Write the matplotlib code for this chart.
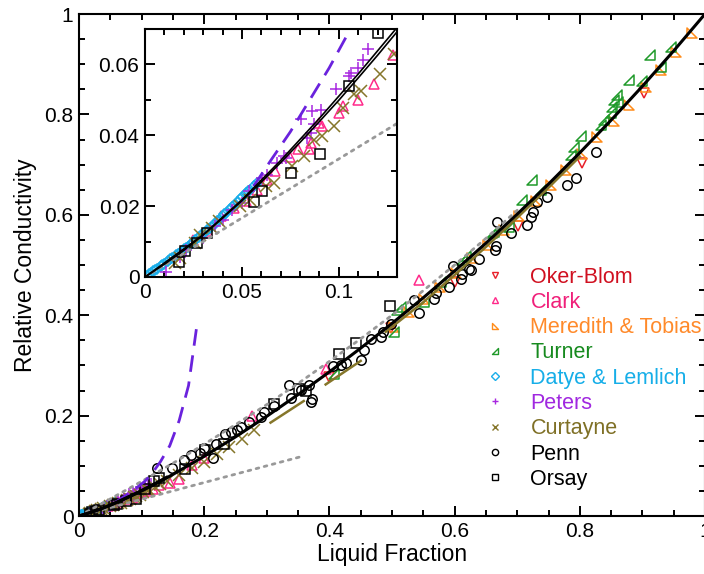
import matplotlib
matplotlib.use('Agg')
import matplotlib.pyplot as plt
from matplotlib.lines import Line2D
from matplotlib.path import Path
import numpy as np

plt.rcParams['font.family'] = ['Liberation Sans', 'DejaVu Sans']

# theory curves
curve_x = [0, 0.01, 0.02, 0.03, 0.04, 0.05, 0.06, 0.07, 0.08, 0.09, 0.10, 0.11, 0.12, 0.13,
           0.14, 0.15, 0.2, 0.25, 0.3, 0.35, 0.4, 0.45, 0.5, 0.55, 0.6, 0.65, 0.7, 0.75,
           0.8, 0.85, 0.9, 0.95, 1.0]
curve_y = [0, 0.0036, 0.0075, 0.0119, 0.0166, 0.0215, 0.0268, 0.0323, 0.0380, 0.0439, 0.0499,
           0.0562, 0.0626, 0.0692, 0.0759, 0.0828, 0.1189, 0.1576, 0.1987, 0.2419, 0.2871,
           0.3344, 0.3836, 0.4348, 0.4881, 0.5435, 0.6012, 0.6612, 0.7236, 0.7885, 0.8561,
           0.9266, 1.0]
curve2_x = [0, 0.03, 0.05, 0.07, 0.09, 0.11, 0.13, 0.14]
curve2_y = [0, 0.0119, 0.0218, 0.0329, 0.0448, 0.0573, 0.0704, 0.0772]

upper_x = [0, 0.05, 0.1, 0.15, 0.2, 0.25, 0.3, 0.35, 0.4, 0.45, 0.5, 0.55, 0.6, 0.65, 0.7]
upper_y = [0, 0.034, 0.069, 0.105, 0.143, 0.182, 0.222, 0.264, 0.308, 0.353, 0.400, 0.449,
           0.500, 0.553, 0.609]
lower_x = [0, 0.36]
lower_y = [0, 0.12]

dash_x = [0.056, 0.065, 0.075, 0.085, 0.095, 0.105, 0.115, 0.13, 0.145, 0.16, 0.175, 0.188]
dash_y = [0.0256, 0.033, 0.041, 0.050, 0.059, 0.069, 0.082, 0.108, 0.14, 0.19, 0.26, 0.377]

# data sets
oker_x = [0.399, 0.499, 0.600, 0.702, 0.803, 0.903]
oker_y = [0.277, 0.374, 0.466, 0.578, 0.704, 0.842]

clark_x = [0.025, 0.032, 0.039, 0.046, 0.052, 0.058, 0.063, 0.067, 0.075, 0.079, 0.0846,
           0.0855, 0.0898, 0.0915, 0.1002, 0.1019, 0.1097, 0.1183, 0.128, 0.145, 0.16,
           0.180, 0.200, 0.276, 0.394, 0.543]
clark_y = [0.0105, 0.0130, 0.0171, 0.0195, 0.0215, 0.0245, 0.0275, 0.0298, 0.0338, 0.0360,
           0.0360, 0.0378, 0.0435, 0.0426, 0.0464, 0.0482, 0.0501, 0.0544, 0.0626, 0.066,
           0.073, 0.102, 0.115, 0.200, 0.292, 0.471]

mered_x = [0.503, 0.527, 0.551, 0.577, 0.603, 0.627, 0.654, 0.679, 0.703, 0.730, 0.754,
           0.778, 0.803, 0.828, 0.854, 0.879, 0.905, 0.930, 0.954, 0.980]
mered_y = [0.377, 0.406, 0.432, 0.457, 0.485, 0.514, 0.539, 0.569, 0.598, 0.628, 0.659,
           0.689, 0.721, 0.754, 0.787, 0.819, 0.854, 0.888, 0.925, 0.962]

turner_x = [0.407, 0.503, 0.508, 0.514, 0.551, 0.578, 0.612, 0.618, 0.660, 0.663, 0.687,
            0.708, 0.724, 0.738, 0.786, 0.791, 0.802, 0.834, 0.839, 0.850, 0.852, 0.855,
            0.860, 0.861, 0.879, 0.899, 0.912, 0.930, 0.946]
turner_y = [0.283, 0.366, 0.410, 0.416, 0.427, 0.467, 0.510, 0.518, 0.563, 0.566, 0.576,
            0.629, 0.669, 0.649, 0.719, 0.736, 0.757, 0.779, 0.789, 0.802, 0.815, 0.829,
            0.839, 0.825, 0.869, 0.867, 0.918, 0.895, 0.935]

datye_x = [0.001, 0.002, 0.003, 0.004, 0.005, 0.006, 0.008, 0.009, 0.010, 0.012, 0.013,
           0.014, 0.016, 0.017, 0.018, 0.020, 0.021, 0.022, 0.024, 0.025, 0.026, 0.028,
           0.029, 0.030, 0.032, 0.033, 0.034, 0.036, 0.037, 0.038, 0.040, 0.041, 0.042,
           0.044, 0.045, 0.046, 0.048, 0.049, 0.050, 0.052, 0.053, 0.054, 0.056, 0.058]
datye_y = [0.0004, 0.0008, 0.0011, 0.0016, 0.0019, 0.0023, 0.0030, 0.0034, 0.0038, 0.0045,
           0.0050, 0.0053, 0.0061, 0.0066, 0.0069, 0.0078, 0.0083, 0.0086, 0.0095, 0.0100,
           0.0104, 0.0113, 0.0118, 0.0121, 0.0132, 0.0136, 0.0141, 0.0151, 0.0157, 0.0160,
           0.0171, 0.0178, 0.0181, 0.0192, 0.0198, 0.0202, 0.0213, 0.0220, 0.0225, 0.0236,
           0.0242, 0.0246, 0.0257, 0.0264]

peters_x = [0.011, 0.018, 0.021, 0.030, 0.036, 0.040, 0.045, 0.050, 0.0535, 0.0605, 0.063,
            0.068, 0.0717, 0.0725, 0.0803, 0.0838, 0.0855, 0.0864, 0.0872, 0.0907, 0.0984,
            0.1054, 0.1062, 0.110, 0.1123, 0.1149]
peters_y = [0.0015, 0.0057, 0.0076, 0.0110, 0.0143, 0.0160, 0.0190, 0.0209, 0.0242, 0.0280,
            0.0289, 0.0322, 0.0341, 0.0336, 0.0445, 0.0393, 0.0407, 0.0468, 0.0431, 0.0471,
            0.0530, 0.0567, 0.0577, 0.0591, 0.0612, 0.0643]

curt_x = [0.0155, 0.0181, 0.0259, 0.0285, 0.0346, 0.038, 0.0492, 0.0544, 0.0622, 0.0665,
          0.076, 0.082, 0.0872, 0.0915, 0.0976, 0.1019, 0.108, 0.1114, 0.121, 0.1287,
          0.14, 0.16, 0.18, 0.20, 0.22, 0.24, 0.26, 0.28]
curt_y = [0.0039, 0.0053, 0.0095, 0.0119, 0.0138, 0.0157, 0.0199, 0.0218, 0.0256, 0.0265,
          0.0312, 0.0341, 0.0388, 0.0397, 0.0426, 0.0478, 0.0516, 0.0525, 0.0572, 0.0629,
          0.069, 0.082, 0.095, 0.108, 0.123, 0.138, 0.154, 0.172]
curt_segs = [([0.306, 0.359], [0.186, 0.229]),
             ([0.394, 0.450], [0.262, 0.309]),
             ([0.49, 0.55, 0.60, 0.65, 0.70, 0.75, 0.80],
              [0.367, 0.426, 0.480, 0.536, 0.594, 0.654, 0.716])]

penn_x = [0.125, 0.149, 0.167, 0.179, 0.194, 0.200, 0.214, 0.219, 0.234, 0.243, 0.252,
          0.259, 0.271, 0.290, 0.295, 0.311, 0.335, 0.338, 0.354, 0.367, 0.370, 0.373,
          0.406, 0.418, 0.426, 0.451, 0.455, 0.466, 0.482, 0.485, 0.499, 0.535, 0.543,
          0.567, 0.570, 0.591, 0.598, 0.610, 0.612, 0.623, 0.626, 0.639, 0.665, 0.666,
          0.668, 0.690, 0.715, 0.722, 0.725, 0.732, 0.748, 0.779, 0.794, 0.826]
penn_y = [0.095, 0.095, 0.112, 0.122, 0.125, 0.135, 0.115, 0.143, 0.163, 0.167, 0.171,
          0.177, 0.187, 0.198, 0.208, 0.220, 0.261, 0.236, 0.251, 0.261, 0.228, 0.233,
          0.298, 0.301, 0.305, 0.310, 0.331, 0.352, 0.357, 0.366, 0.382, 0.430, 0.404,
          0.432, 0.444, 0.457, 0.498, 0.473, 0.483, 0.493, 0.491, 0.511, 0.530, 0.538,
          0.586, 0.564, 0.579, 0.596, 0.606, 0.626, 0.635, 0.659, 0.673, 0.726]

orsay_x = [0.0173, 0.0207, 0.0268, 0.032, 0.0561, 0.0605, 0.0755, 0.0903, 0.1054, 0.1204,
           0.128, 0.170, 0.202, 0.231, 0.311, 0.351, 0.362, 0.416, 0.442, 0.497]
orsay_y = [0.0041, 0.0072, 0.0097, 0.0124, 0.0211, 0.0242, 0.0294, 0.0346, 0.0539, 0.069,
           0.076, 0.094, 0.132, 0.143, 0.224, 0.252, 0.250, 0.322, 0.345, 0.419]

labels = ['Oker-Blom', 'Clark', 'Meredith & Tobias', 'Turner', 'Datye & Lemlich',
          'Peters', 'Curtayne', 'Penn', 'Orsay']
mark_cols = ['#e8202a', '#ff2a8a', '#ff8c1a', '#1f9a2a', '#1aaeea', '#a828e0', '#85762a',
             'black', 'black']
text_cols = ['#d01020', '#f0207a', '#ff8a2a', '#168a1e', '#16aee8', '#a028e0', '#7f7026',
             'black', 'black']

tri_bl = Path([(-1, 1), (-1, -1), (1, -1), (-1, 1)], closed=True)   # Meredith
tri_br = Path([(1, 1), (1, -1), (-1, -1), (1, 1)], closed=True)     # Turner
markers = ['v', '^', tri_bl, tri_br, 'D', '+', 'x', 'o', 's']
sizes = [7, 7, 7, 7, 5.5, 8, 8, 6.8, 7]

series = [(oker_x, oker_y), (clark_x, clark_y), (mered_x, mered_y), (turner_x, turner_y),
          (datye_x, datye_y), (peters_x, peters_y), (curt_x, curt_y), (penn_x, penn_y),
          (orsay_x, orsay_y)]

fig = plt.figure(figsize=(7.04, 5.74), dpi=100)
ax = fig.add_axes([79/704, 58/574, 626/704, 502/574])
ins = fig.add_axes([145/704, 297/574, 252/704, 248/574], zorder=5)


def draw(a, lw_main, inset):
    for (sx, sy), m, c, s in zip(series, markers, mark_cols, sizes):
        a.plot(sx, sy, ls='none', marker=m, ms=s, mec=c, mfc='none', mew=1.1)
    for sx, sy in curt_segs:
        a.plot(sx, sy, color='#85762a', lw=1.8)
    a.plot(lower_x, lower_y, color='#999999', lw=2, ls=(0, (1, 2)), dash_capstyle='round')
    if not inset:
        a.plot(upper_x, upper_y, color='#999999', lw=2, ls=(0, (1, 2)), dash_capstyle='round')
    a.plot(dash_x, dash_y, color='#6a22dd', lw=2, ls=(0, (6, 3.5)))
    a.plot(curve_x, curve_y, color='black', lw=lw_main)
    a.plot(curve2_x, curve2_y, color='black', lw=lw_main)


draw(ax, 2.2, False)
draw(ins, 1.2, True)

ax.set_xlim(0, 1)
ax.set_ylim(0, 1)
ax.set_xticks([0, 0.2, 0.4, 0.6, 0.8, 1.0])
ax.set_xticklabels(['0', '0.2', '0.4', '0.6', '0.8', '1'])
ax.set_yticks([0, 0.2, 0.4, 0.6, 0.8, 1.0])
ax.set_yticklabels(['0', '0.2', '0.4', '0.6', '0.8', '1'])
ax.set_xticks(np.arange(0, 1.001, 0.05), minor=True)
ax.set_yticks(np.arange(0, 1.001, 0.05), minor=True)
ax.set_xlabel('Liquid Fraction', fontsize=16.5, labelpad=2)
ax.set_ylabel('Relative Conductivity', fontsize=16.5, labelpad=5)

ins.set_xlim(0, 0.13)
ins.set_ylim(0, 0.07)
ins.set_xticks([0, 0.05, 0.1])
ins.set_xticklabels(['0', '0.05', '0.1'])
ins.set_yticks([0, 0.02, 0.04, 0.06])
ins.set_yticklabels(['0', '0.02', '0.04', '0.06'])
ins.set_xticks(np.arange(0, 0.1301, 0.01), minor=True)
ins.set_yticks(np.arange(0, 0.0701, 0.01), minor=True)

for a in (ax, ins):
    a.tick_params(which='both', direction='in', top=True, right=True, labelsize=15, width=1.4)
    a.tick_params(which='major', length=7, pad=4)
    a.tick_params(which='minor', length=4)
    for sp in a.spines.values():
        sp.set_linewidth(1.5)

handles = [Line2D([], [], ls='none', marker=m, ms=4.5, mec=c, mfc='none', mew=1)
           for m, c in zip(markers, mark_cols)]
ax.legend(handles, labels, loc='upper left', bbox_to_anchor=(0.649, 0.497), frameon=False,
          fontsize=15.5, labelcolor=text_cols, handlelength=0.9, handletextpad=1.2,
          labelspacing=0.2, borderpad=0, borderaxespad=0)

fig.savefig('out.png', dpi=100)
